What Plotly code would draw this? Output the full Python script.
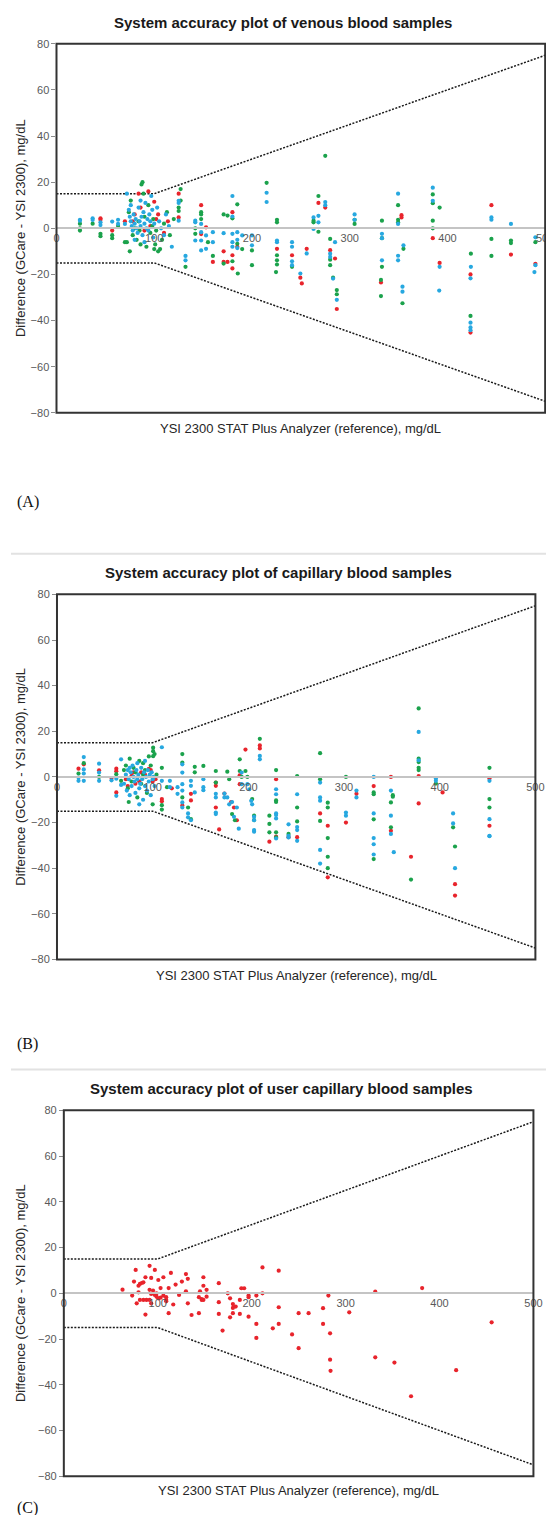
import plotly.graph_objects as go

W, H = 554, 1515

# ---------------- data ----------------
limit_x = [0, 100, 500]
limit_upper = [15, 15, 75]
limit_lower = [-15, -15, -75]
x_ticks = [0, 100, 200, 300, 400, 500]
y_ticks = [-80, -60, -40, -20, 0, 20, 40, 60, 80]

# Panel A (venous)
A_red_x = [45, 45, 57, 70, 78, 80, 84, 86, 90, 94, 96, 100, 102, 104, 110, 114, 125, 125, 148, 148, 153, 160, 171, 171, 175, 180, 180, 180, 185,
           225.6, 241, 249.5, 251, 256, 268, 275, 280, 285, 286.8, 332, 353, 353, 385, 392, 423.6, 423.6, 445, 465, 490]
A_red_y = [4.3, 3.7, -1, 3, 3, 6, 15, 9, -1, 16, 1, 11.5, 4, 6, -2, 3, 15, 4.7, 10, -2.5, 0.4, -14.6, -10, -14.6, -14.6, 7, -11.7, -17.4, -8,
           -8.9, -11.7, -21.4, -23.9, -8.9, 11, 9, -9.5, -13.1, -35, -23.5, 5.7, 4.7, -4.3, -15, -20, -45.2, 10, -11.4, -15.4]

A_green_x = [24, 24, 24, 37, 45, 45, 57, 57, 63, 70, 72, 74, 75, 76, 78, 80, 82, 84, 85, 86, 87, 88, 89, 90, 92, 94, 96, 98, 99, 100, 101,
             102, 104, 106, 108, 110, 113, 116, 120, 125, 125, 127, 127, 132, 142, 142, 148, 148, 148, 155, 160, 171, 171, 175, 180, 180,
             185, 185, 185.5, 190, 200, 200, 215, 224.6, 225.6, 225.6, 225.6, 225.6, 225.6, 241, 263, 263, 268, 268, 275, 280, 280, 280,
             283, 286.8, 286.8, 305, 305, 332, 332, 333, 333, 333, 349.5, 349.5, 349.5, 354, 355, 385, 385, 385, 385, 392, 423.6, 424,
             445, 445, 465, 465, 490]
A_green_y = [2, 0, -1, 2, -2.4, -3.4, -3, -4.3, 1, -6, -6, 7, -10, 12, -3, 0, -5, 3, -1, -7, 19, 20, 15, 5, -8, 10, -2, 1, 4, -9, -7,
             -1, -10, -9, -5, 2, 7, -3, 4, 9, 7.5, 12, 17, -16.7, 0, -2.4, 7, 6, 4, -6, -12, 6, -15.3, 5.5, 4.3, -14.3,
             10.4, -6.7, -19.6, -9, -9.6, -16, 19.7, -19, 3.7, 2.6, -11.7, -13.9, -15.7, -16.7, 3.3, 2.6, 14, -1.5, 31.4, -4.6, -13.6, -16,
             -21.4, -26.8, -28.6, 3.7, 1.9, -22.4, -29.4, 3.3, -4.3, -16.7, 10, 3.7, 2.6, -32.5, -8.9, 14.7, 10.9, 3.3, 0, 9, -38, -11,
             -4.6, -12, -5.3, -6.4, -6]

A_blue_x = [24, 24, 37, 37, 45, 45, 57, 63, 63, 70, 72, 74, 75, 76, 76, 77, 78, 79, 80, 80, 81, 82, 83, 84, 85, 86, 86, 87, 88, 89, 90,
            90, 91, 92, 93, 94, 95, 96, 97, 98, 99, 100, 103, 105, 107, 110, 112, 115, 118, 125, 125, 125, 132, 132, 142, 142, 142,
            148, 148, 148, 148, 153, 153, 160, 160, 171, 180, 180, 180, 180, 180, 185, 185, 185, 190, 200, 200, 215, 215, 225.6, 225.6,
            241, 241, 241, 241, 249.5, 256, 263, 263, 268, 268, 275, 275, 280, 280, 283, 285, 286.8, 305, 305, 333, 333, 333, 349.5,
            349.5, 349.5, 349.5, 354, 354, 355, 385, 385, 391.6, 392, 423.6, 423.6, 423.6, 423.6, 424, 445, 445, 465, 489, 490, 490]
A_blue_y = [3.3, 3.7, 4.3, 3.6, 2.6, 1.4, 2.9, 3.7, 1.9, 1.9, 15, 8, 5, 3, 10, 1, -1, 6, 2, -5, 4, 0, -2, 9, 3, 1, 12, 5, -3, 7, 2,
            -6, 11, 0, 4, -1, 6, 3, 14, 8, -4, 2, 9, 3, 0, -3, 6, 1, -8, 11, 11.9, 3.3, -12, -13.9, 3.3, 2.6, -5.3,
            1.9, -1.7, -5.3, -9.6, -3.1, -8.9, -6, -1.7, -2.1, 14, 5.1, -2.4, -6, -8, -1.7, -5, -8.6, -3.1, -3.1, -7.4, 15.4, 11.4, -5.3, -6,
            -6, -8, -14.3, -16, -19.6, -10.9, 4.7, -0.3, 2.6, 5.4, 11.4, 10, -11, -12.4, -21.8, -6, -31, 6, 3.7, -2.4, -4.3, -13.9, 15,
            1.9, -11.9, -13.9, -25.3, -27.5, -7.4, 17.6, 11.9, -27, -16.7, -21.7, -40.9, -43, -44.2, -16.7, 4.7, 3.7, 1.9, -19, -3.9, -16]

# Panel B (capillary)
B_red_x = [22.5, 28, 44, 57, 62, 62, 62, 72, 74, 78, 80, 82, 86, 88, 92, 96, 98, 100, 103, 109.6, 109.6, 120, 131, 140, 140, 166, 166, 166,
           169.5, 175, 182, 185, 188, 191, 191, 197, 212, 212, 222, 229, 229, 242, 251, 275, 283, 283, 302, 313, 331, 349, 349, 370, 378,
           378, 403, 416, 416, 452, 452]
B_red_y = [3.6, 5.5, 2.9, -0.5, 3.6, 2.5, -6.8, -1, -4, 0.5, 2, -3, -2, 2, 1, 3.5, 3, -2, -1, -9.7, -10.7, -5, -12.5, -7.4, -10.3, -2.5, -3.9, -13.4,
           -23, -7.3, -11, -13.4, -19, -3.2, 0.7, 12, 13.8, 12.5, -28.4, -1, -26.2, -26.4, -26.4, -16, -21.4, -44, -20, -7.4, -4, 0, -23.6, -35, 0.4,
           -11.6, -6.8, -47, -52, -0.7, -21.4]

B_green_x = [22.5, 28, 44, 62, 67, 70, 72, 74, 75, 76, 78, 80, 82, 84, 86, 88, 90, 90, 92, 94, 96, 98, 100, 100.5, 100.5, 100.5, 102, 104,
             109.6, 109.6, 109.6, 115, 131, 131, 131, 137, 140, 144, 144, 153, 166, 166, 178, 180, 183, 186, 191, 191, 193, 197, 199, 204,
             206, 206, 212, 222, 222, 222, 229, 229, 229, 229, 229, 242, 251, 251, 251, 275, 275, 275, 283, 283, 283, 283, 283, 302, 331,
             331, 331, 331, 349, 349, 351, 351, 370, 378, 378, 378, 378, 378, 396, 414, 416, 452, 452, 452]
B_green_y = [1.5, 6, 0, 1.2, -1.7, 3, 5, -5, -11, 8, -2, 4, 2, -9, 7, -3, 1, 6, 3, -7, 9, 5, -12, 12.8, 11.3, 9.1, 10, 1,
             4, -14.3, -12.4, -4.5, 10, 6.3, -9, -13.4, -18.5, 2, 4.4, 4.8, 2.6, -2.5, 2.3, -1, -16.3, -19, 7.7, 2.6, 0, 2.6, 0, -9.7,
             -17, -18.9, 16.7, -17, -20.6, -24.3, 3, -11, -10.3, -24.3, -26.5, -25, 0.4, -13.4, -19.5, 10.4, -1, -19.3, -11.3, -13.4, -26.8, -35, -40, 0,
             -6.8, -7.6, -18.6, -36, -11.2, -22.1, -8, -8.7, -45, 30, 8, 6.5, 4, 3, -2.9, -22.1, -30.5, 4, -9.7, -13.4]

B_blue_x = [22.5, 22.5, 28, 28, 28, 28, 44, 44, 44, 57, 62, 62, 67, 67, 70, 72, 73, 74, 75, 76, 76, 77, 78, 79, 80, 81, 82, 83, 84, 84,
            85, 86, 86, 87, 88, 89, 90, 91, 92, 92, 93, 94, 95, 96, 97, 98, 99, 100, 101, 102, 109.6, 109.6, 118, 118, 126, 126, 131, 131,
            131, 131, 131, 131, 137, 137, 140, 140, 140, 144, 153, 153, 153, 166, 166, 166, 166, 175, 175, 178, 180, 183, 185, 188, 190,
            193, 193, 199, 201, 203, 204, 206, 206, 206, 206, 212, 212, 229, 229, 229, 229, 229, 229, 242, 242, 242, 251, 251, 251, 251,
            275, 275, 275, 275, 275, 302, 302, 313, 313, 331, 331, 331, 331, 331, 349, 349, 349, 352, 378, 378, 396, 396, 414, 414, 416,
            452, 452, 452, 452]
B_blue_y = [-0.3, -1.7, 8.7, 3.3, 1.5, -1.7, 5.8, 1.9, -1.7, -1.5, -0.8, -8.3, 7.7, -3.5, -3, 1, -6, 3, -1, -8, 4, 2, -4, 5, 0, -2, -7, 3, -1, 6,
            1, -5, -12, -3, 4, -1, -10, 2, -4, 7, 0, -6, 3, -2, 1, -8, 2, -1, 0, -4, 13, -1.7, -1.7, -4.5, -4.5, -7.4, 5.5, 1.9,
            -3.2, -6, -11.2, -13.4, -16, -17.7, -19, -1.7, -3.9, -6.8, -1, -4.5, -5.8, -7.4, -9, -15.6, -16.3, -7.3, -9, -9, -12, -11, -17.5, -13.4, -22.7,
            1.9, -3.2, -3.2, -5.4, -10.5, -12, -17.5, -19, -23.3, -24, 9.2, 7.7, -5.4, -7.6, -16.7, -16, -18.2, -27, -20.8, -25.8, -26.5, -7.6, -22, -23.3, -28,
            -2.5, -9, -10.4, -32, -38, -15.6, -17, -6, -9, 0, -16, -26.8, -29.5, -34, -6, -17, -25, -33, 19.7, 7.3, -0.7, -1.7, -16, -20.4, -40,
            -1.7, -18.5, -25.8, -26]

# Panel C (user capillary)
C_red_x = [62.5, 72.8, 74.7, 76.5, 77.6, 79.5, 79.5, 81, 81, 83, 84.7, 84.7, 86.9, 86.9, 88, 91.3, 91.3, 91.3, 93, 93, 93, 95, 96.9, 96.9,
           98.7, 98.7, 100.6, 100.6, 103, 103, 106, 106, 109, 109, 109, 111.6, 111.6, 114, 116.5, 119, 122.7, 125.7, 130, 130, 132, 132,
           136, 143.8, 143.8, 145, 146.8, 146.8, 148.6, 148.6, 148.6, 152, 152, 165, 165, 165, 169, 174.5, 177, 177, 180, 180, 180, 183,
           187.4, 187.4, 189, 192, 196.7, 196.7, 196.7, 205, 205, 205, 211.5, 211.5, 222.5, 228.8, 228.8, 228.8, 243, 250, 250, 260.6,
           276, 276, 281.7, 283.5, 283.5, 284, 303.9, 331.6, 331.6, 352, 369.7, 381.5, 417.7, 455.5]
C_red_y = [1.6, -1, 5.1, 10.2, -4.4, 3.3, 0.4, 4.1, -2.9, 4.5, 4.8, -2.9, 7, -9.3, -2.9, 12, 1.5, -2.9, 6.7, -0.3, -4.4, 1.2, 10.2, -0.7,
           0, -1.5, 5.8, -2.2, 2.3, -1.9, -1, 7, -1.7, -2.9, -3.5, -8.7, 2.3, 8.9, -4.9, 3.8, -0.7, 5.1, 0.9, 8.4, 6.3, -4.4,
           -9.5, -8.7, -1.7, 0.9, -2.5, -2.9, 7, 3.3, -2.9, 1.5, -1.5, 4.4, -3.9, -9, -16.3, 0, -2.2, -10.5, -4.7, -6.4, -8.7, -5.8,
           -2.9, -9, 2.2, 2.2, -1, -1.7, -10.2, -1, -13.4, -19.5, 11.3, 0, -15.3, 9.9, -13.4, -6.1, -18, -8.7, -24, -8.7,
           -6.5, -13.4, -1, -17.5, -29, -33.9, -8.3, 0.7, -28, -30.3, -45, 2.3, -33.6, -12.7]

# ---------------- styling ----------------
RED, GREEN, BLUE = "#e8242c", "#1ba24c", "#27a8e0"
FONT = "Liberation Sans, Arial, sans-serif"

panels = [
    dict(title="System accuracy plot of venous blood samples", box=(46.5, 546, 30, 402), title_y=9, xt_y=418, lab="(A)", lab_y=492,
         series=[(A_red_x, A_red_y, RED), (A_green_x, A_green_y, GREEN), (A_blue_x, A_blue_y, BLUE)]),
    dict(title="System accuracy plot of capillary blood samples", box=(47, 536, 585, 953), title_y=563, xt_y=969, lab="(B)", lab_y=1038,
         series=[(B_red_x, B_red_y, RED), (B_green_x, B_green_y, GREEN), (B_blue_x, B_blue_y, BLUE)]),
    dict(title="System accuracy plot of user capillary blood samples", box=(54, 534, 1105, 1474), title_y=1083, xt_y=1488, lab="(C)", lab_y=1506,
         series=[(C_red_x, C_red_y, RED)]),
]


def px(x):
    return x / W


def py(y):
    return 1 - y / H


fig = go.Figure()
annotations = []
shapes = []

for i, p in enumerate(panels, start=1):
    x0, x1, y0, y1 = p["box"]
    xa = "x" if i == 1 else f"x{i}"
    ya = "y" if i == 1 else f"y{i}"
    xname = "xaxis" if i == 1 else f"xaxis{i}"
    yname = "yaxis" if i == 1 else f"yaxis{i}"
    zero_px = (y0 + y1) / 2

    # limit lines
    for ly in (limit_upper, limit_lower):
        fig.add_trace(go.Scatter(x=limit_x, y=ly, mode="lines", xaxis=xa, yaxis=ya, showlegend=False,
                                 line=dict(color="#1a1a1a", width=1.5, dash="2px,1.5px"), hoverinfo="skip"))
    for sx, sy, col in p["series"]:
        fig.add_trace(go.Scatter(x=sx, y=sy, mode="markers", xaxis=xa, yaxis=ya, showlegend=False,
                                 marker=dict(color=col, size=4.2, line=dict(width=0))))

    fig.layout[xname] = dict(domain=[px(x0), px(x1)], range=[0, 500], anchor="free", position=py(zero_px),
                             tickvals=x_ticks, showgrid=False, zeroline=False, showline=True, linecolor="#c4c4c4",
                             linewidth=1.5, ticks="", tickfont=dict(family=FONT, size=11, color="#595959"))
    fig.layout[yname] = dict(domain=[py(y1), py(y0)], range=[-80, 80], anchor=xa, tickvals=y_ticks,
                             showgrid=False, zeroline=False, showline=False, ticks="outside", ticklen=4,
                             tickcolor="#8c8c8c", tickwidth=1, tickfont=dict(family=FONT, size=11, color="#595959"))
    # frame
    shapes.append(dict(type="rect", xref=f"{xa} domain", yref=f"{ya} domain", x0=0, x1=1, y0=0, y1=1,
                       line=dict(color="#333333", width=2), layer="above"))
    # titles
    annotations.append(dict(text=f"<b>{p['title']}</b>", x=px((x0 + x1) / 2 - 18), y=py(p["title_y"]), xref="paper", yref="paper",
                            showarrow=False, xanchor="center", yanchor="middle", font=dict(family=FONT, size=15, color="#1a1a1a")))
    annotations.append(dict(text="YSI 2300 STAT Plus Analyzer (reference), mg/dL", x=px((x0 + x1) / 2), y=py(p["xt_y"]),
                            xref="paper", yref="paper", showarrow=False, xanchor="center", yanchor="middle",
                            font=dict(family=FONT, size=13, color="#262626")))
    annotations.append(dict(text="Difference (GCare - YSI 2300), mg/dL", x=px(10), y=py(zero_px), textangle=-90,
                            xref="paper", yref="paper", showarrow=False, xanchor="center", yanchor="middle",
                            font=dict(family=FONT, size=13, color="#262626")))
    annotations.append(dict(text=p["lab"], x=px(4), y=py(p["lab_y"]), xref="paper", yref="paper", showarrow=False,
                            xanchor="left", yanchor="middle", font=dict(family="Liberation Serif, Times New Roman, serif", size=16, color="#111111")))

# separators
for sy in (544, 1064):
    shapes.append(dict(type="line", xref="paper", yref="paper", x0=0, x1=1, y0=py(sy), y1=py(sy),
                       line=dict(color="#e2e2e2", width=2)))

fig.update_layout(width=W, height=H, margin=dict(l=0, r=0, t=0, b=0), paper_bgcolor="white", plot_bgcolor="white",
                  annotations=annotations, shapes=shapes, showlegend=False)

fig.write_html("out.html")
